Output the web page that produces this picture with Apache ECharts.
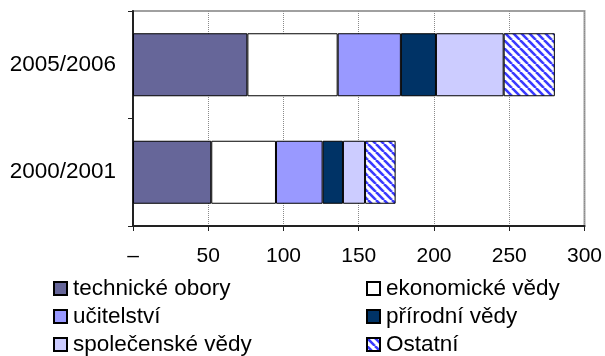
<!DOCTYPE html>
<html>
<head>
<meta charset="utf-8">
<script src="https://cdn.jsdelivr.net/npm/echarts@6/dist/echarts.min.js"></script>
<style>
  html, body { margin: 0; padding: 0; background: #fff; }
  #chart { width: 605px; height: 356px; }
</style>
</head>
<body>
<div id="chart"></div>
<script>
// Academic years (bottom to top on the category axis)
const categories = ['2000/2001', '2005/2006'];

// Graduates by field, per academic year
const technicke   = [52, 76];
const ekonomicke  = [43, 60];
const ucitelstvi  = [31, 42];
const prirodni    = [13.5, 23.3];
const spolecenske = [14.7, 45];
const ostatni     = [20.3, 34];

const xTicks = [0, 50, 100, 150, 200, 250, 300];

// Diagonal blue hatch used for the "Ostatní" segment
function hatchPattern() {
  const c = document.createElement('canvas');
  c.width = 8; c.height = 8;
  const g = c.getContext('2d');
  g.fillStyle = '#ffffff';
  g.fillRect(0, 0, 8, 8);
  g.strokeStyle = '#3a3aff';
  g.lineWidth = 2.6;
  [-8, 0, 8].forEach(function (o) {
    g.beginPath();
    g.moveTo(o, 0);
    g.lineTo(o + 8, 8);
    g.stroke();
  });
  return c;
}

const FONT = 'Liberation Sans, Arial, sans-serif';

function seg(name, data, color) {
  return {
    name: name,
    type: 'bar',
    stack: 'total',
    data: data,
    barWidth: 63,
    itemStyle: { color: color, borderColor: '#000', borderWidth: 1 },
    emphasis: { disabled: true }
  };
}

function legendColumn(left, names) {
  return {
    orient: 'vertical',
    left: left, top: 277,
    width: 230, height: 120,
    padding: 0,
    itemWidth: 13, itemHeight: 13, itemGap: 5,
    icon: 'rect',
    textStyle: { fontSize: 22.5, lineHeight: 22, color: '#000', fontFamily: FONT, padding: [0, 0, 0, 1] },
    data: names
  };
}

const chart = echarts.init(document.getElementById('chart'), null, { renderer: 'canvas' });

chart.setOption({
  animation: false,
  textStyle: { fontFamily: FONT },
  grid: {
    left: 133, right: 17, top: 11, bottom: 130,
    show: true, borderColor: '#a0a0a0', borderWidth: 2
  },
  xAxis: {
    type: 'value',
    min: xTicks[0],
    max: xTicks[xTicks.length - 1],
    interval: 50,
    axisLine: { show: true, lineStyle: { color: '#222', width: 2 } },
    axisTick: { show: true, length: 5, lineStyle: { color: '#222', width: 1 } },
    axisLabel: {
      margin: 20,
      color: '#000',
      fontSize: 21,
      fontFamily: FONT,
      formatter: function (v) { return v === 0 ? '–' : String(v); }
    },
    splitLine: { show: true, lineStyle: { color: '#8a8a8a', type: 'dotted', width: 1 } }
  },
  yAxis: {
    type: 'category',
    data: categories,
    axisLine: { show: true, lineStyle: { color: '#222', width: 2 } },
    axisTick: { show: true, length: 5, lineStyle: { color: '#222', width: 1 } },
    axisLabel: { margin: 17, color: '#000', fontSize: 22.5, fontFamily: FONT },
    splitLine: { show: false }
  },
  legend: [
    legendColumn(53, ['technické obory', 'učitelství', 'společenské vědy']),
    legendColumn(366, ['ekonomické vědy', 'přírodní vědy', 'Ostatní'])
  ],
  series: [
    seg('technické obory', technicke, '#666699'),
    seg('ekonomické vědy', ekonomicke, '#ffffff'),
    seg('učitelství', ucitelstvi, '#9999ff'),
    seg('přírodní vědy', prirodni, '#003366'),
    seg('společenské vědy', spolecenske, '#ccccff'),
    seg('Ostatní', ostatni, { image: hatchPattern(), repeat: 'repeat' })
  ]
});
</script>
</body>
</html>
